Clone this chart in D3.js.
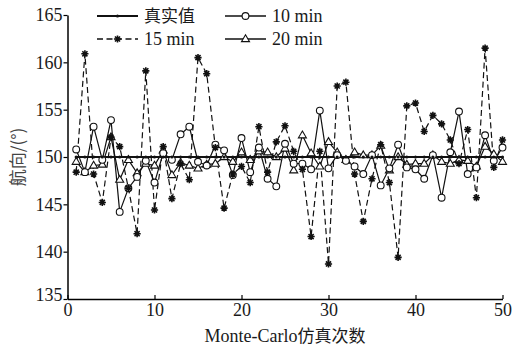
<!DOCTYPE html>
<html>
<head>
<meta charset="utf-8">
<script src="https://cdn.jsdelivr.net/npm/d3@7"></script>
<style>
  body { margin: 0; background: #fff; }
  text { font-family: "Liberation Serif", "Times New Roman", serif; fill: #1a1a1a; }
  .cjk { font-family: "Noto Sans CJK SC", sans-serif; }
</style>
</head>
<body>
<div id="chart"></div>
<script>
// Monte-Carlo run index 1..50
const runs = d3.range(1, 51);
const trueValue = runs.map(() => 150);
const min10 = [150.8, 148.4, 153.2, 149.7, 153.9, 144.2, 146.7, 147.9, 149.6, 147.3,
               150.4, 149.7, 152.4, 153.2, 149.5, 149.1, 151.3, 150.7, 148.1, 152.0,
               148.4, 151.0, 147.7, 146.9, 151.4, 149.3, 149.3, 148.7, 154.9, 148.8,
               150.2, 149.6, 149.0, 148.2, 150.2, 147.0, 148.8, 151.3, 148.9, 148.7,
               147.7, 150.2, 145.7, 150.5, 154.8, 148.2, 148.9, 152.3, 149.6, 151.0];
const min15 = [148.4, 160.9, 148.2, 145.2, 152.1, 151.1, 146.7, 141.9, 159.1, 144.4,
               151.1, 145.6, 149.3, 147.6, 160.5, 158.8, 151.0, 144.6, 148.2, 149.0,
               147.3, 153.2, 148.4, 151.6, 153.3, 150.6, 148.7, 141.6, 150.6, 138.7,
               157.5, 157.9, 148.2, 143.2, 147.7, 151.3, 147.3, 139.4, 155.4, 155.7,
               152.7, 154.4, 153.5, 151.8, 149.3, 152.9, 145.7, 161.5, 148.9, 151.8];
const min20 = [149.5, 148.4, 149.1, 149.2, 152.1, 147.6, 149.7, 148.3, 149.3, 149.1,
               150.7, 148.1, 149.4, 149.1, 148.8, 149.2, 149.3, 150.0, 149.5, 150.5,
               149.7, 150.6, 150.5, 150.0, 150.9, 148.6, 152.3, 150.4, 149.0, 151.6,
               150.5, 149.7, 150.5, 150.2, 150.2, 151.2, 148.6, 150.0, 149.2, 149.3,
               149.3, 150.2, 149.5, 149.3, 149.7, 149.6, 149.0, 151.1, 150.3, 149.5];
const xTicks = [0, 10, 20, 30, 40, 50];
const yTicks = [135, 140, 145, 150, 155, 160, 165];

const width = 513, height = 349;
const margin = {left: 67.5, right: 10.5, top: 15, bottom: 50};

const svg = d3.select('#chart').append('svg')
    .attr('width', width)
    .attr('height', height);

const x = d3.scaleLinear().domain([0, 50]).range([margin.left, width - margin.right]);
const y = d3.scaleLinear().domain([135, 165]).range([height - margin.bottom, margin.top]);

// axes: x ticks point inward, y ticks outward
const xAxis = svg.append('g')
    .attr('transform', 'translate(0,' + y(135) + ')')
    .call(d3.axisBottom(x).tickValues(xTicks).tickSizeInner(-4).tickSizeOuter(0).tickPadding(4));
xAxis.select('.domain').attr('stroke-width', 1.5);
xAxis.selectAll('.tick line').attr('stroke-width', 1.2);
xAxis.selectAll('text').style('font-size', '18px').attr('fill', '#1a1a1a')
    .attr('font-family', '"Liberation Serif", serif');

const yAxis = svg.append('g')
    .attr('transform', 'translate(' + x(0) + ',0)')
    .call(d3.axisLeft(y).tickValues(yTicks).tickSizeInner(4).tickSizeOuter(0).tickPadding(1));
yAxis.select('.domain').attr('stroke-width', 1.5);
yAxis.selectAll('.tick line').attr('stroke-width', 1.2);
yAxis.selectAll('text').style('font-size', '18px').attr('fill', '#1a1a1a')
    .attr('font-family', '"Liberation Serif", serif');
// the bottom "135" label sits a bit lower
yAxis.selectAll('.tick').filter(d => d === 135).select('text').attr('dy', '0.1em');

svg.append('text')
    .attr('x', (x(0) + x(50)) / 2)
    .attr('y', 342)
    .attr('text-anchor', 'middle')
    .style('font-size', '18px')
    .html('Monte-Carlo<tspan class="cjk" style="font-size:17px">仿真次数</tspan>');

svg.append('text')
    .attr('class', 'cjk')
    .attr('transform', 'translate(24,' + y(150) + ') rotate(-90)')
    .attr('text-anchor', 'middle')
    .style('font-size', '17px')
    .style('fill', '#444')
    .text('航向/(°)');

const line = d3.line()
    .x((d, i) => x(runs[i]))
    .y(d => y(d));

const plot = svg.append('g');

// symbols
function drawMarker(g, kind, cx, cy) {
  if (kind === 'dot') {
    g.append('circle').attr('cx', cx).attr('cy', cy).attr('r', 1.6).attr('fill', '#111');
  } else if (kind === 'circle') {
    g.append('circle').attr('cx', cx).attr('cy', cy).attr('r', 3.4)
        .attr('fill', '#fff').attr('stroke', '#111').attr('stroke-width', 1.1);
  } else if (kind === 'tri') {
    g.append('path')
        .attr('d', 'M' + cx + ',' + (cy - 4.2) + 'L' + (cx + 4) + ',' + (cy + 2.6) + 'L' + (cx - 4) + ',' + (cy + 2.6) + 'Z')
        .attr('fill', '#fff').attr('stroke', '#111').attr('stroke-width', 1.1);
  } else if (kind === 'star') {
    const r = 3.6;
    let p = '';
    for (let k = 0; k < 4; k++) {
      const a = k * Math.PI / 4;
      p += 'M' + (cx - r * Math.cos(a)) + ',' + (cy - r * Math.sin(a)) +
           'L' + (cx + r * Math.cos(a)) + ',' + (cy + r * Math.sin(a));
    }
    g.append('path').attr('d', p).attr('stroke', '#111').attr('stroke-width', 1.6);
  }
}

const series = [
  {name: '20 min', data: min20, marker: 'tri', dash: null, width: 1.2},
  {name: '10 min', data: min10, marker: 'circle', dash: null, width: 1.2},
  {name: '15 min', data: min15, marker: 'star', dash: '6,3.5', width: 1.2},
  {name: '真实值', data: trueValue, marker: 'dot', dash: null, width: 2}
];

series.forEach(s => {
  plot.append('path')
      .datum(s.data)
      .attr('d', line)
      .attr('fill', 'none')
      .attr('stroke', '#111')
      .attr('stroke-width', s.width)
      .attr('stroke-dasharray', s.dash);
});
series.forEach(s => {
  const g = plot.append('g');
  s.data.forEach((v, i) => drawMarker(g, s.marker, x(runs[i]), y(v)));
});

// legend
const legendItems = [
  {name: '真实值', marker: 'dot', dash: null, width: 2, lx: 97, ly: 16},
  {name: '10 min', marker: 'circle', dash: null, width: 1.4, lx: 225, ly: 16},
  {name: '15 min', marker: 'star', dash: '6,3.5', width: 1.4, lx: 97, ly: 39},
  {name: '20 min', marker: 'tri', dash: null, width: 1.4, lx: 225, ly: 39}
];
const legend = svg.append('g');
legendItems.forEach(d => {
  legend.append('line')
      .attr('x1', d.lx).attr('x2', d.lx + 41)
      .attr('y1', d.ly).attr('y2', d.ly)
      .attr('stroke', '#111').attr('stroke-width', d.width)
      .attr('stroke-dasharray', d.dash);
  drawMarker(legend, d.marker, d.lx + 20.5, d.ly);
  legend.append('text')
      .attr('x', d.lx + 47)
      .attr('y', d.ly + 6)
      .attr('class', /[a-z]/.test(d.name) ? null : 'cjk')
      .style('font-size', /[a-z]/.test(d.name) ? '18px' : '17px')
      .text(d.name);
});
</script>
</body>
</html>
